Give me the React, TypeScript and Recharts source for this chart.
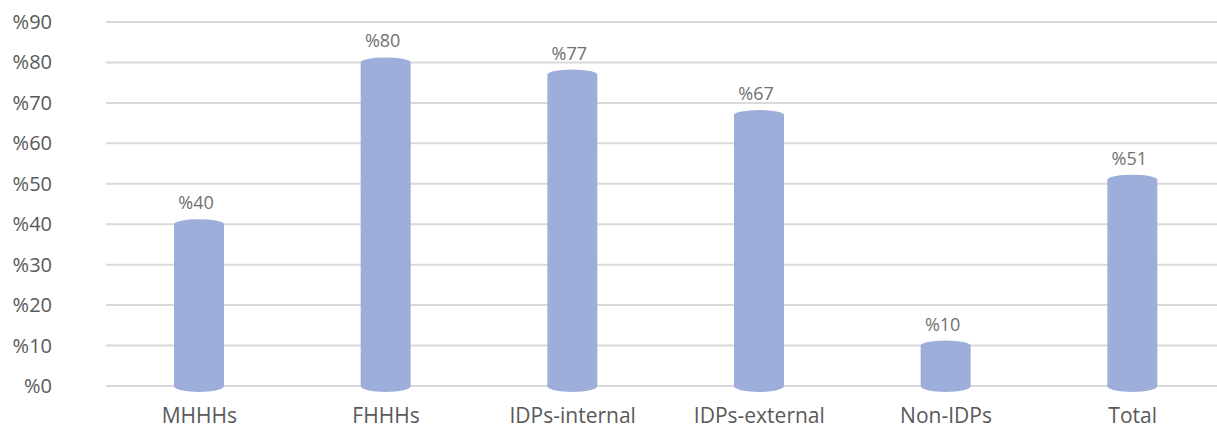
import React from 'react';
import { BarChart, Bar, XAxis, YAxis, CartesianGrid, LabelList } from 'recharts';

const categories = ['MHHHs', 'FHHHs', 'IDPs-internal', 'IDPs-external', 'Non-IDPs', 'Total'];
const values = [40, 80, 77, 67, 10, 51];
const yTicks = [0, 10, 20, 30, 40, 50, 60, 70, 80, 90];

const data = categories.map((name, i) => ({ name, value: values[i] }));

const FONT = '"Open Sans", sans-serif';
const TEXT = '#595959';
const BAR = '#9eaeda';

// cylinder shape: flat sides, elliptical top and bottom
const Cylinder = (props: any) => {
  const { x, y, width, height } = props;
  if (width == null || height == null) return null;
  const rx = width / 2;
  const bottom = y + height;
  const d = `M${x},${y} L${x},${bottom} A${rx},6 0 0 0 ${x + width},${bottom} L${x + width},${y} A${rx},5 0 0 0 ${x},${y} Z`;
  return <path d={d} fill={BAR} />;
};

const ValueLabel = (props: any) => {
  const { x, y, width, value } = props;
  return (
    <text x={x + width / 2 - 3} y={y - 15} textAnchor="middle" fontFamily={FONT} fontSize={18} fill="#707070">
      {`%${value}`}
    </text>
  );
};

const YTick = (props: any) => {
  const { y, payload } = props;
  return (
    <text x={52} y={y} dy="0.35em" textAnchor="end" fontFamily={FONT} fontSize={20} fill={TEXT}>
      {`%${payload.value}`}
    </text>
  );
};

const XTick = (props: any) => {
  const { x, payload } = props;
  return (
    <text x={x} y={423} textAnchor="middle" fontFamily={FONT} fontSize={21} fill={TEXT}>
      {payload.value}
    </text>
  );
};

export default function App() {
  return (
    <div style={{ position: 'absolute', top: 0, left: 0, width: 1217, height: 430, overflow: 'hidden', background: '#fff' }}>
      <BarChart width={1226} height={430} data={data} margin={{ top: 22, right: 0, bottom: 0, left: 0 }}>
        <CartesianGrid vertical={false} stroke="#d9d9d9" strokeWidth={2} />
        <XAxis dataKey="name" height={44} axisLine={false} tickLine={false} tick={<XTick />} interval={0} />
        <YAxis
          width={106}
          domain={[0, 90]}
          ticks={yTicks}
          axisLine={false}
          tickLine={false}
          tick={<YTick />}
        />
        <Bar dataKey="value" barSize={50} shape={<Cylinder />} isAnimationActive={false}>
          <LabelList dataKey="value" content={<ValueLabel />} />
        </Bar>
      </BarChart>
    </div>
  );
}
